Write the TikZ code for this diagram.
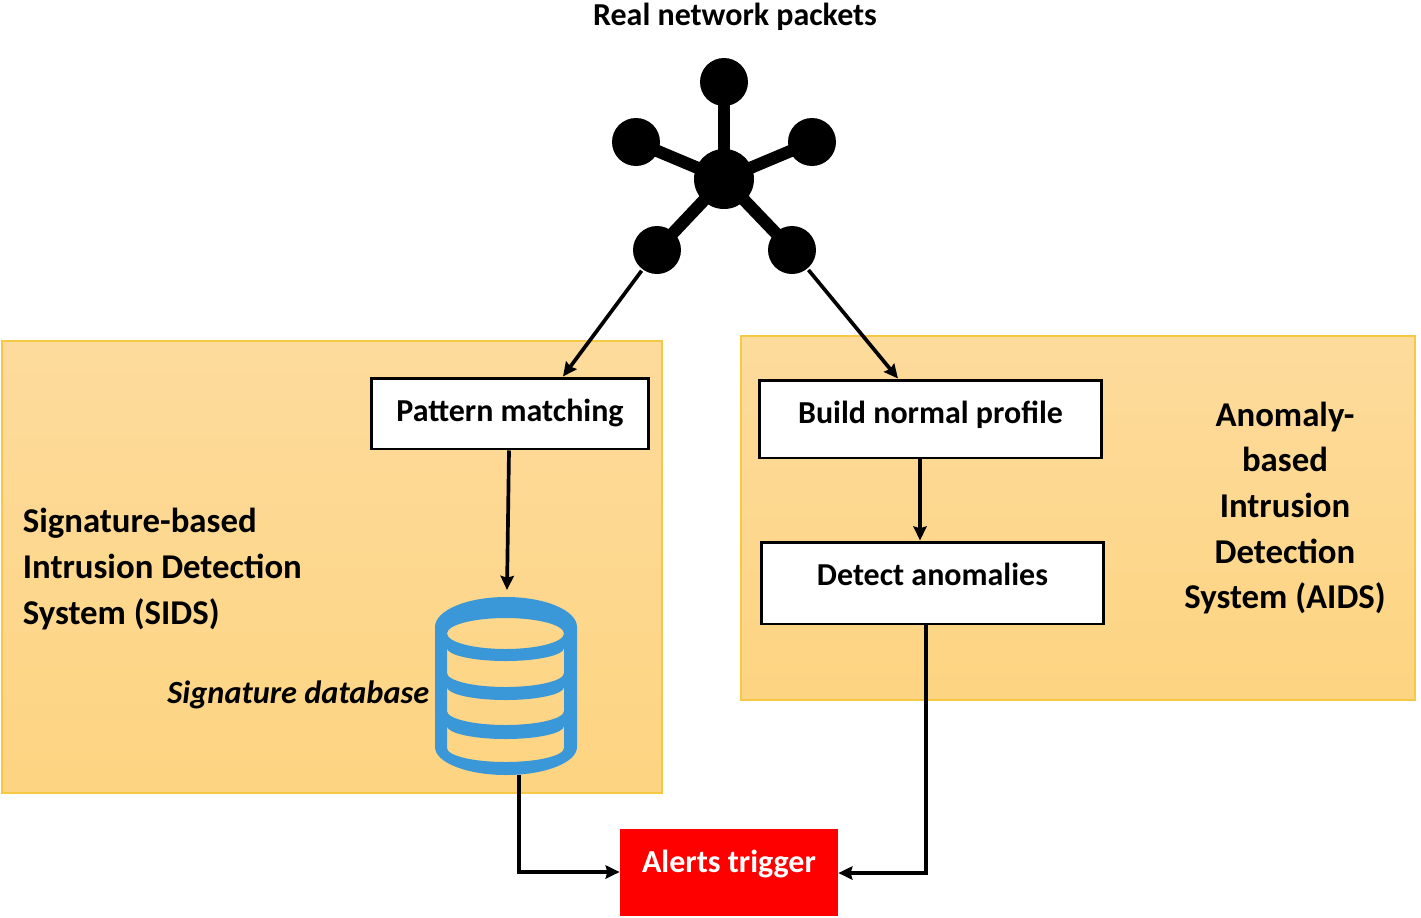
\documentclass[tikz,border=0pt]{standalone}
\usepackage{fontspec}
\setmainfont{Carlito}
\usetikzlibrary{arrows.meta,positioning,calc}
\definecolor{paneltop}{HTML}{FDDB9C}
\definecolor{panelbottom}{HTML}{FDD481}
\definecolor{paneledge}{HTML}{F6C944}
\definecolor{dbblue}{HTML}{3A97D8}
\definecolor{alertred}{HTML}{FE0000}
\tikzset{
    panel/.style={draw=paneledge,top color=paneltop,bottom color=panelbottom,line width=1.2pt,inner sep=0pt},
    stepbox/.style={draw,fill=white,line width=1.7pt,inner sep=0pt},
    hub/.style={circle,fill=black,inner sep=0pt},
    title/.style={font=\fontsize{18.2}{22}\selectfont\bfseries,inner sep=0pt},
    sidetitle/.style={font=\fontsize{19.8}{26}\selectfont\bfseries,inner sep=0pt},
}
\begin{document}
\begin{tikzpicture}[->,>={Stealth[length=8pt,width=7.5pt,inset=1pt]},line width=2.1pt,x=.02cm,y=-.02cm]
    \useasboundingbox (0,0) rectangle (1421,917);

    \node[panel,minimum width=13.2cm,minimum height=9.04cm] (sids) at (332,567) {};
    \node[panel,minimum width=13.48cm,minimum height=7.28cm] (aids) at (1078,518) {};

    \node[title] (real) at (735,17) {Real network packets};

    \node[hub,minimum size=1.2cm] (c) at (724,179) {};
    \node[hub,minimum size=.96cm] (n1) at (724,82) {};
    \node[hub,minimum size=.96cm] (n2) at (636,142) {};
    \node[hub,minimum size=.96cm] (n3) at (812,142) {};
    \node[hub,minimum size=.96cm] (n4) at (657,250) {};
    \node[hub,minimum size=.96cm] (n5) at (792,250) {};

    \node[stepbox,title,minimum width=5.56cm,minimum height=1.42cm,text depth=4pt] (pm) at (510,413.5) {Pattern matching};
    \node[stepbox,title,minimum width=6.86cm,minimum height=1.56cm,text depth=8pt] (bp) at (930.5,419) {Build normal profile};
    \node[stepbox,title,minimum width=6.86cm,minimum height=1.64cm,text depth=10pt] (da) at (932.5,583) {Detect anomalies};
    \node[draw=alertred,fill=alertred,title,text=white,minimum width=4.3cm,minimum height=1.68cm,text depth=13pt] (at) at (729,872.5) {Alerts trigger};

    \node[sidetitle,align=left,anchor=west] (sl) at (21,569) {Signature-based\\Intrusion Detection\\System (SIDS)};
    \node[sidetitle,align=center] (al) at (1285,508) {Anomaly-\\based\\Intrusion\\Detection\\System (AIDS)};
    \node[title,font=\fontsize{18.4}{22}\selectfont\bfseries\itshape,anchor=east] (sd) at (431,695) {Signature database};

    % database icon
    \fill[dbblue,even odd rule] (435,627) arc[start angle=180,end angle=360,x radius=71,y radius=30]
        -- (577,747) arc[start angle=0,end angle=180,x radius=71,y radius=28] -- cycle
        (505.5,633.5) ellipse[x radius=58.5,y radius=15.5]
        \foreach \ya/\yb in {648/673,687/711,726/748} {
            (447,\ya) arc[start angle=180,end angle=0,x radius=58.5,y radius=13] -- (564,\yb)
            arc[start angle=0,end angle=180,x radius=58.5,y radius=14] -- cycle
        };
    \coordinate (dbtop) at (507,590);
    \coordinate (dbout) at (519,775);
    \coordinate (dbdown) at (519,872);
    \coordinate (daout) at (926,624);
    \coordinate (dadown) at (926,873);

    \path[-,line width=7pt]
    (c.center) edge (n1.center)
        edge (n2.center)
        edge (n3.center)
        edge (n4.center)
        edge (n5.center);

    \path
    (n4) edge (pm.north -| 563,0)
    (n5) edge (bp.north -| 898,0)
    (pm.south -| 509,0) edge (dbtop)
    (bp.south -| 920,0) edge (da.north -| 920,0);

    \draw (dbout) -- (dbdown) -- (at.west |- dbdown);
    \draw (daout) -- (dadown) -- (at.east |- dadown);
\end{tikzpicture}
\end{document}
